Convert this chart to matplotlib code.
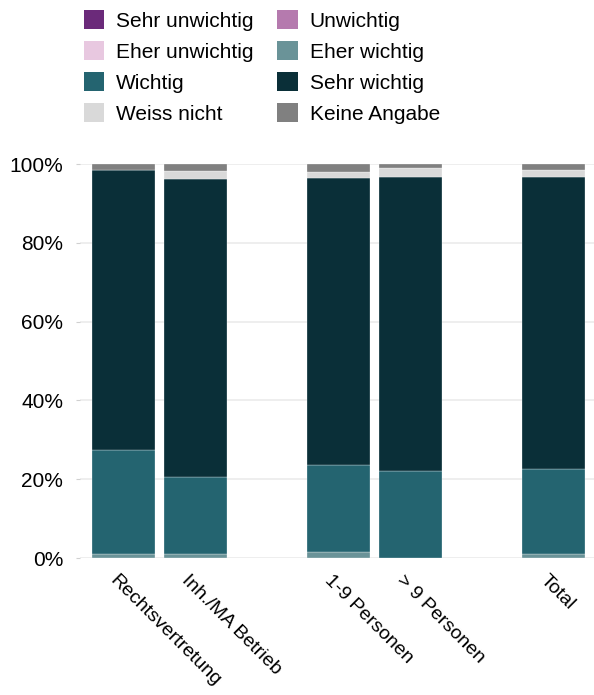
import matplotlib.pyplot as plt
from matplotlib.patches import Patch
from matplotlib.ticker import PercentFormatter
from matplotlib.transforms import ScaledTranslation

plt.rcParams['font.family'] = ['Liberation Sans', 'DejaVu Sans']

groups = ["Rechtsvertretung", "Inh./MA Betrieb", "1-9 Personen", "> 9 Personen", "Total"]
positions = [0, 1, 3, 4, 6]

categories = ["Sehr unwichtig", "Unwichtig", "Eher unwichtig", "Eher wichtig",
              "Wichtig", "Sehr wichtig", "Weiss nicht", "Keine Angabe"]
colors = ["#6b2a7a", "#b57aae", "#e8c8e0", "#6a9398",
          "#246470", "#0a2f38", "#d9d9d9", "#808080"]

# shares in percent, one list per answer category (order of groups above)
sehr_unwichtig = [0.0, 0.0, 0.0, 0.0, 0.0]
unwichtig = [0.0, 0.0, 0.0, 0.0, 0.0]
eher_unwichtig = [0.0, 0.0, 0.0, 0.0, 0.0]
eher_wichtig = [1.0, 1.0, 1.5, 0.0, 0.9]
wichtig = [26.4, 19.6, 22.1, 22.2, 21.7]
sehr_wichtig = [71.2, 75.5, 72.9, 74.5, 74.0]
weiss_nicht = [0.0, 2.1, 1.5, 2.2, 1.8]
keine_angabe = [1.4, 1.8, 2.0, 1.1, 1.6]

series = [sehr_unwichtig, unwichtig, eher_unwichtig, eher_wichtig,
          wichtig, sehr_wichtig, weiss_nicht, keine_angabe]

fig = plt.figure(figsize=(5.94, 6.95), dpi=100)
ax = fig.add_axes([80 / 594, 137 / 695, 514 / 594, 394 / 695])

bottom = [0.0] * len(groups)
for vals, col in zip(series, colors):
    ax.bar(positions, vals, width=0.88, bottom=bottom, color=col,
           edgecolor="white", linewidth=0.2, zorder=2)
    bottom = [b + v for b, v in zip(bottom, vals)]

ax.set_ylim(0, 100)
ax.set_xlim(-0.607, 6.56)
ax.yaxis.set_major_formatter(PercentFormatter(decimals=0))
ax.set_yticks([0, 20, 40, 60, 80, 100])
ax.grid(axis="y", color="#ebebeb", linewidth=1.2, zorder=0)
for s in ax.spines.values():
    s.set_visible(False)
ax.tick_params(axis="y", length=3, color="#d0d0d0", labelsize=15, pad=9)
ax.tick_params(axis="x", length=0, labelsize=14, pad=10)
ax.set_xticks(positions, groups, rotation=-45, ha="left", va="top",
              rotation_mode="anchor")
shift = ScaledTranslation(-5 / 100, 0, fig.dpi_scale_trans)
for lab in ax.get_xticklabels():
    lab.set_transform(lab.get_transform() + shift)
ax.set_axisbelow(True)

# legend laid out row by row as in the original (matplotlib fills columns)
order = [0, 2, 4, 6, 1, 3, 5, 7]
handles = [Patch(facecolor=colors[i], edgecolor="none") for i in order]
labels = [categories[i] for i in order]
fig.legend(handles, labels, ncol=2, loc="upper left",
           bbox_to_anchor=(71 / 594, 1.0 + 2 / 695), frameon=False, fontsize=15,
           handlelength=1.0, handleheight=1.0, handletextpad=0.55,
           columnspacing=1.15, labelspacing=0.5, borderaxespad=0.2)

fig.savefig("out.png", dpi=100)
